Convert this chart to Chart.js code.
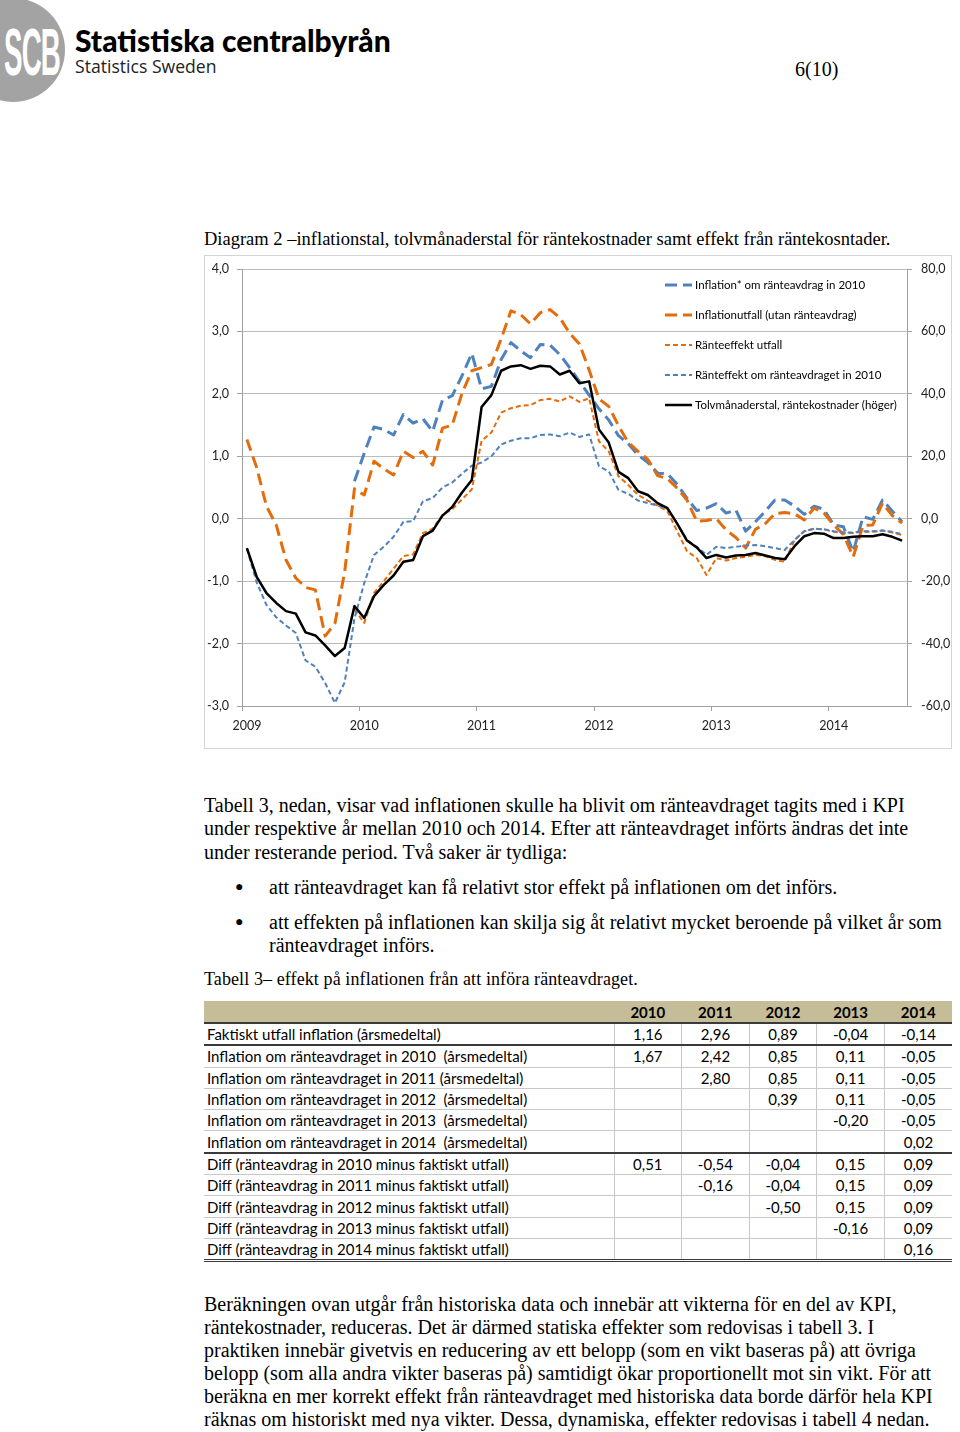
<!DOCTYPE html>
<html lang="sv">
<head>
<meta charset="utf-8">
<title>Diagram 2 – inflationstal och räntekostnader</title>
<script src="https://cdn.jsdelivr.net/npm/chart.js@4.4.1/dist/chart.umd.min.js"></script>
<style>
	html, body { margin: 0; padding: 0; background: #fff; }
	body { width: 960px; height: 1432px; position: relative; overflow: hidden; font-family: 'Liberation Serif', 'Times New Roman', serif; color: #000; }
	.abs { position: absolute; white-space: nowrap; }
	.logo-circle { left: -39px; top: -2px; width: 104px; height: 104px; border-radius: 50%; background: #a3a3a3; }
	.logo-scb { left: 4px; top: 14px; font: bold 66px 'Liberation Sans', sans-serif; color: #fff; transform: scaleX(0.42); transform-origin: left top; letter-spacing: -2px; }
	.logo-name { left: 75px; top: 22px; font: 900 30px 'Lato', sans-serif; }
	.logo-sub { left: 75px; top: 54px; font: 17.6px 'Open Sans', sans-serif; color: #222; }
	.page-no { left: 795px; top: 58px; font-size: 20px; }
	.caption { left: 204px; top: 228px; font-size: 18.5px; line-height: 22px; }
	.chart-box { left: 204px; top: 255px; width: 748px; height: 494px; border: 1px solid #d4d4d4; box-sizing: border-box; }
	#chart-wrap { position: absolute; left: 205px; top: 256px; width: 745px; height: 491px; }
	.para { left: 204px; font-size: 20px; line-height: 23.3px; }
	.bullet { left: 235px; font-size: 14px; }
	.tab-caption { left: 204px; top: 968px; font-size: 18px; line-height: 22px; letter-spacing: 0.1px; }
	#table3 { position: absolute; left: 204px; top: 1001px; width: 748px; border-collapse: collapse; font: 15px 'Lato', sans-serif; }
	#table3 td, #table3 th { padding: 0 3px; height: 20.3px; border-left: 1px solid #c8c8c8; white-space: nowrap; }
	#table3 td:first-child, #table3 th:first-child { border-left: none; text-align: left; }
	#table3 td { text-align: center; border-bottom: 1px solid #c8c8c8; }
	#table3 th { background: #c5bd97; font-weight: bold; text-align: center; border-bottom: 2px solid #3a3a3a; height: 21px; border-left: none; }
	#table3 tr.strong td { border-bottom: 2px solid #3a3a3a; }
	#table3 tr.last td { border-bottom: 3px double #3a3a3a; }
</style>
</head>
<body>

<div class="abs logo-circle"></div>
<div class="abs logo-scb">SCB</div>
<div class="abs logo-name">Statistiska centralbyrån</div>
<div class="abs logo-sub">Statistics Sweden</div>
<div class="abs page-no">6(10)</div>

<div class="abs caption">Diagram 2 –inflationstal, tolvmånaderstal för räntekostnader samt effekt från räntekosntader.</div>

<div class="abs chart-box"></div>
<div id="chart-wrap"><canvas id="chart-inflation" width="745" height="491"></canvas></div>

<div class="abs para" style="top:794px">Tabell 3, nedan, visar vad inflationen skulle ha blivit om ränteavdraget tagits med i KPI<br>under respektive år mellan 2010 och 2014. Efter att ränteavdraget införts ändras det inte<br>under resterande period. Två saker är tydliga:</div>

<div class="abs bullet" style="top:879px">&#9679;</div>
<div class="abs para" style="top:876px; left:269px">att ränteavdraget kan få relativt stor effekt på inflationen om det införs.</div>
<div class="abs bullet" style="top:914px">&#9679;</div>
<div class="abs para" style="top:911px; left:269px">att effekten på inflationen kan skilja sig åt relativt mycket beroende på vilket år som<br>ränteavdraget införs.</div>

<div class="abs tab-caption">Tabell 3– effekt på inflationen från att införa ränteavdraget.</div>

<table id="table3"></table>

<div class="abs para" style="top:1293px; line-height:23px">Beräkningen ovan utgår från historiska data och innebär att vikterna för en del av KPI,<br>räntekostnader, reduceras. Det är därmed statiska effekter som redovisas i tabell 3. I<br>praktiken innebär givetvis en reducering av ett belopp (som en vikt baseras på) att övriga<br>belopp (som alla andra vikter baseras på) samtidigt ökar proportionellt mot sin vikt. För att<br>beräkna en mer korrekt effekt från ränteavdraget med historiska data borde därför hela KPI<br>räknas om historiskt med nya vikter. Dessa, dynamiska, effekter redovisas i tabell 4 nedan.</div>

<script>
// Months Jan 2009 - Aug 2014
const years = ['2009', '2010', '2011', '2012', '2013', '2014'];
const monthCount = 68;

const seriesNames = [
	'Inflation* om ränteavdrag in 2010',
	'Inflationutfall (utan ränteavdrag)',
	'Ränteeffekt utfall',
	'Ränteffekt om ränteavdraget in 2010',
	'Tolvmånaderstal, räntekostnader (höger)'
];

// left axis, percent
const inflationAvdrag2010 = [
	null, null, null, null, null, null, null, null, null, null,
	null, 0.60, 1.05, 1.47, 1.43, 1.34, 1.67, 1.53, 1.60, 1.40,
	1.90, 1.97, 2.29, 2.65, 2.08, 2.12, 2.55, 2.82, 2.69, 2.58,
	2.79, 2.78, 2.63, 2.42, 2.20, 1.98, 1.76, 1.58, 1.33, 1.20,
	1.02, 0.90, 0.73, 0.72, 0.55, 0.33, 0.13, 0.17, 0.24, 0.09,
	0.14, -0.20, -0.05, 0.12, 0.30, 0.30, 0.20, 0.07, 0.20, 0.15,
	-0.10, -0.13, -0.53, 0.03, -0.01, 0.30, 0.12, -0.05
];
const inflationUtfall = [
	1.27, 0.82, 0.20, -0.10, -0.66, -0.95, -1.10, -1.14, -1.88, -1.68,
	-0.85, 0.48, 0.38, 0.92, 0.80, 0.70, 1.08, 0.98, 1.08, 0.86,
	1.45, 1.50, 2.01, 2.37, 2.42, 2.47, 2.88, 3.33, 3.27, 3.12,
	3.30, 3.35, 3.22, 2.97, 2.80, 2.38, 1.92, 1.80, 1.49, 1.22,
	1.08, 0.95, 0.69, 0.64, 0.49, 0.30, -0.04, -0.03, 0.00, -0.18,
	-0.30, -0.47, -0.17, -0.08, 0.08, 0.10, 0.08, -0.02, 0.17, 0.09,
	-0.10, -0.25, -0.61, -0.11, -0.10, 0.25, 0.05, -0.07
];
const ranteeffektUtfall = [
	null, null, null, null, null, null, null, null, null, null,
	null, -1.45, -1.67, -1.19, -1.00, -0.80, -0.60, -0.57, -0.23, -0.16,
	0.06, 0.15, 0.31, 0.47, 1.25, 1.38, 1.70, 1.77, 1.81, 1.82,
	1.90, 1.92, 1.88, 1.96, 1.87, 1.93, 1.24, 1.08, 0.68, 0.54,
	0.38, 0.29, 0.21, 0.12, -0.20, -0.52, -0.63, -0.90, -0.63, -0.67,
	-0.63, -0.61, -0.58, -0.60, -0.66, -0.69, -0.34, -0.20, -0.16, -0.17,
	-0.21, -0.23, -0.23, -0.21, -0.21, -0.19, -0.22, -0.26
];
const ranteeffekt2010 = [
	-0.48, -1.02, -1.38, -1.58, -1.71, -1.83, -2.27, -2.37, -2.63, -2.95,
	-2.62, -1.60, -1.03, -0.58, -0.45, -0.29, -0.05, -0.04, 0.28, 0.33,
	0.50, 0.58, 0.72, 0.85, 0.90, 1.00, 1.19, 1.25, 1.29, 1.29,
	1.34, 1.35, 1.32, 1.38, 1.31, 1.35, 0.84, 0.76, 0.46, 0.40,
	0.29, 0.25, 0.21, 0.16, -0.08, -0.34, -0.45, -0.58, -0.45, -0.47,
	-0.45, -0.43, -0.42, -0.44, -0.47, -0.50, -0.34, -0.20, -0.16, -0.17,
	-0.20, -0.22, -0.22, -0.20, -0.20, -0.19, -0.21, -0.25
];
// right axis, percent
const tolvmanadstal = [
	-9.4, -18.6, -23.8, -27.0, -29.6, -30.4, -36.4, -37.4, -40.6, -44.0,
	-41.4, -28.0, -31.8, -24.8, -21.2, -18.2, -13.8, -13.2, -5.6, -3.8,
	1.0, 3.8, 8.4, 12.4, 35.8, 39.6, 47.4, 48.8, 49.2, 48.0,
	49.0, 48.8, 46.2, 47.4, 43.4, 44.0, 28.6, 24.4, 15.0, 13.0,
	8.8, 7.6, 5.0, 3.4, -1.6, -7.0, -9.2, -12.6, -11.6, -12.4,
	-11.8, -11.6, -11.0, -11.8, -12.6, -13.0, -8.8, -5.6, -4.6, -4.8,
	-6.2, -6.2, -5.8, -5.6, -5.6, -5.0, -5.8, -7.0
];

// Table 3
const tableYears = ['2010', '2011', '2012', '2013', '2014'];
const tableLabels = [
	'Faktiskt utfall inflation (årsmedeltal)',
	'Inflation om ränteavdraget in 2010&nbsp; (årsmedeltal)',
	'Inflation om ränteavdraget in 2011 (årsmedeltal)',
	'Inflation om ränteavdraget in 2012&nbsp; (årsmedeltal)',
	'Inflation om ränteavdraget in 2013&nbsp; (årsmedeltal)',
	'Inflation om ränteavdraget in 2014&nbsp; (årsmedeltal)',
	'Diff (ränteavdrag in 2010 minus faktiskt utfall)',
	'Diff (ränteavdrag in 2011 minus faktiskt utfall)',
	'Diff (ränteavdrag in 2012 minus faktiskt utfall)',
	'Diff (ränteavdrag in 2013 minus faktiskt utfall)',
	'Diff (ränteavdrag in 2014 minus faktiskt utfall)'
];
const tableValues = [
	['1,16', '2,96', '0,89', '-0,04', '-0,14'],
	['1,67', '2,42', '0,85', '0,11', '-0,05'],
	['', '2,80', '0,85', '0,11', '-0,05'],
	['', '', '0,39', '0,11', '-0,05'],
	['', '', '', '-0,20', '-0,05'],
	['', '', '', '', '0,02'],
	['0,51', '-0,54', '-0,04', '0,15', '0,09'],
	['', '-0,16', '-0,04', '0,15', '0,09'],
	['', '', '-0,50', '0,15', '0,09'],
	['', '', '', '-0,16', '0,09'],
	['', '', '', '', '0,16']
];

(function() {
	'use strict';

	const BLUE = '#4f81bd';
	const ORANGE = '#e46c0a';
	const GRID = '#bcbcbc';
	const AXIS = '#a0a0a0';
	const FONT = 'Lato, "Liberation Sans", sans-serif';

	const months = [];
	years.forEach(function(y) {
		for (let m = 1; m <= 12; m++) {
			if (months.length < monthCount) months.push(y + '-' + String(m).padStart(2, '0'));
		}
	});

	/**
	 * Format number with decimal comma
	 */
	function fmt(v) {
		return v.toFixed(1).replace('.', ',');
	}

	/**
	 * Fixed axis width, no extra label padding
	 */
	function fixWidth(w) {
		return function(scale) {
			scale.width = w;
			scale.paddingTop = 0;
			scale.paddingBottom = 0;
		};
	}

	/**
	 * Legend drawn inside the plot area
	 */
	const insideLegend = {
		id: 'insideLegend',
		afterDatasetsDraw(chart) {
			const ctx = chart.ctx;
			const x0 = 460, x1 = 487, tx = 490, y0 = 29, step = 30;
			ctx.save();
			ctx.font = '11.5px ' + FONT;
			ctx.textBaseline = 'middle';
			ctx.fillStyle = '#000';
			seriesNames.forEach(function(name, i) {
				const ds = chart.data.datasets.find(d => d.label === name);
				const y = y0 + i * step;
				ctx.beginPath();
				ctx.strokeStyle = ds.borderColor;
				ctx.lineWidth = ds.borderWidth;
				ctx.setLineDash(ds.borderDash || []);
				ctx.moveTo(x0, y);
				ctx.lineTo(x1, y);
				ctx.stroke();
				ctx.setLineDash([]);
				ctx.fillText(name, tx, y + 0.5);
			});
			ctx.restore();
		}
	};

	/**
	 * Render the line chart
	 */
	function renderChart() {
		const ctx = document.getElementById('chart-inflation');

		new Chart(ctx, {
			type: 'line',
			data: {
				labels: months,
				datasets: [
					{
						label: seriesNames[0],
						data: inflationAvdrag2010,
						borderColor: BLUE,
						borderWidth: 3,
						borderDash: [12, 6],
						yAxisID: 'y',
						order: 5
					},
					{
						label: seriesNames[1],
						data: inflationUtfall,
						borderColor: ORANGE,
						borderWidth: 3,
						borderDash: [12, 6],
						yAxisID: 'y',
						order: 4
					},
					{
						label: seriesNames[2],
						data: ranteeffektUtfall,
						borderColor: ORANGE,
						borderWidth: 2,
						borderDash: [5, 3],
						yAxisID: 'y',
						order: 3
					},
					{
						label: seriesNames[3],
						data: ranteeffekt2010,
						borderColor: BLUE,
						borderWidth: 2,
						borderDash: [5, 3],
						yAxisID: 'y',
						order: 2
					},
					{
						label: seriesNames[4],
						data: tolvmanadstal,
						borderColor: '#000',
						borderWidth: 2.5,
						yAxisID: 'y2',
						order: 1
					}
				]
			},
			options: {
				responsive: false,
				animation: false,
				layout: { padding: { top: 13 } },
				elements: {
					point: { radius: 0 },
					line: { tension: 0, borderJoinStyle: 'round', fill: false }
				},
				plugins: {
					legend: { display: false },
					tooltip: { enabled: false }
				},
				scales: {
					x: {
						type: 'category',
						offset: true,
						afterFit: function(scale) { scale.height = 41; },
						grid: {
							offset: true,
							drawOnChartArea: false,
							tickLength: 5,
							color: c => (c.index % 12 === 0 ? AXIS : 'rgba(0,0,0,0)')
						},
						border: { display: true, color: AXIS },
						ticks: {
							autoSkip: false,
							maxRotation: 0,
							padding: 7,
							color: '#222',
							font: { family: FONT, size: 12.5 },
							callback: function(value) {
								const label = this.getLabelForValue(value);
								return label.endsWith('-01') ? label.slice(0, 4) : '';
							}
						}
					},
					y: {
						position: 'left',
						min: -3,
						max: 4,
						afterFit: fixWidth(37),
						grid: { color: GRID, tickLength: 5, tickColor: AXIS },
						border: { display: true, color: AXIS },
						ticks: {
							stepSize: 1,
							padding: 8,
							color: '#222',
							font: { family: FONT, size: 12.5 },
							callback: v => fmt(v)
						}
					},
					y2: {
						position: 'right',
						min: -60,
						max: 80,
						afterFit: fixWidth(43),
						grid: { drawOnChartArea: false, tickLength: 5, color: AXIS },
						border: { display: true, color: AXIS },
						ticks: {
							stepSize: 20,
							padding: 9,
							color: '#222',
							font: { family: FONT, size: 12.5 },
							callback: v => fmt(v)
						}
					}
				}
			},
			plugins: [insideLegend]
		});
	}

	/**
	 * Build table 3
	 */
	function buildTable() {
		const table = document.getElementById('table3');
		let html = '<colgroup><col style="width:410px">' + tableYears.map(() => '<col style="width:67.6px">').join('') + '</colgroup>';
		html += '<tr><th></th>' + tableYears.map(y => '<th>' + y + '</th>').join('') + '</tr>';
		tableLabels.forEach(function(label, i) {
			let cls = '';
			if (i === 0 || i === 5) cls = 'strong';
			if (i === tableLabels.length - 1) cls = 'last';
			html += '<tr class="' + cls + '"><td>' + label + '</td>' +
				tableValues[i].map(v => '<td>' + v + '</td>').join('') + '</tr>';
		});
		table.innerHTML = html;
	}

	buildTable();
	renderChart();

})();
</script>
</body>
</html>
